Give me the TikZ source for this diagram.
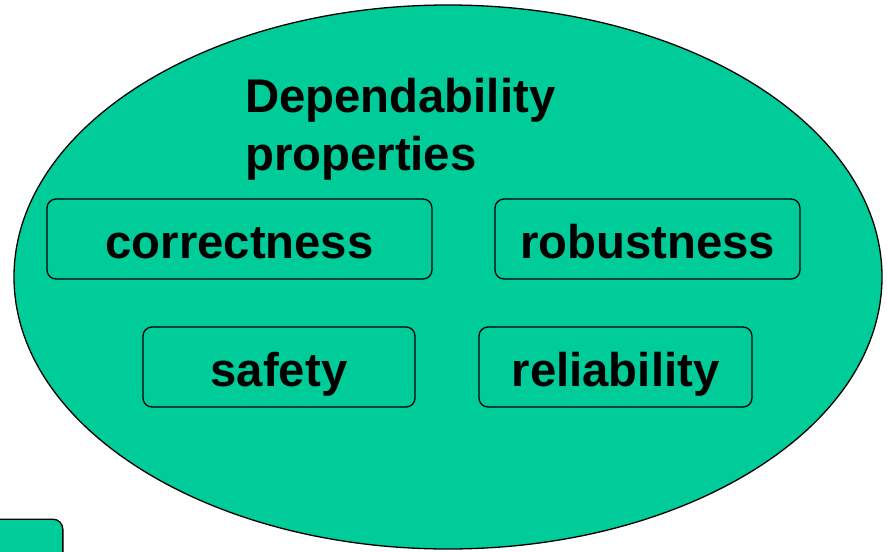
\documentclass[tikz,border=0pt]{standalone}
\usepackage{fontspec}
\setmainfont{Liberation Sans}
\usetikzlibrary{shapes.geometric}
\definecolor{dgreen}{HTML}{00CC99}
\tikzset{
  propbox/.style={draw=black, line width=1.3pt, rounded corners=9pt, fill=dgreen},
  proptext/.style={font=\fontsize{47.3}{56}\selectfont\bfseries, text=black, inner sep=0pt, anchor=base},
}
\begin{document}
\begin{tikzpicture}[x=1pt,y=-1pt]
\useasboundingbox (0,0) rectangle (887,552);
\clip (0,0) rectangle (887,552);
\node[draw=black, line width=1.3pt, fill=dgreen, ellipse, minimum width=868pt, minimum height=544pt, inner sep=0pt] (ell) at (448,277) {};
\node[propbox, minimum width=385pt, minimum height=80pt, inner sep=0pt] (corr) at (239.5,239) {};
\node[proptext] (corrt) at (corr.center |- 0,258) {correctness};
\node[propbox, minimum width=305pt, minimum height=80pt, inner sep=0pt] (rob) at (647.5,239) {};
\node[proptext] (robt) at (rob.center |- 0,258) {robustness};
\node[propbox, minimum width=272pt, minimum height=80pt, inner sep=0pt] (saf) at (279,367) {};
\node[proptext] (saft) at (saf.center |- 0,386) {safety};
\node[propbox, minimum width=273pt, minimum height=80pt, inner sep=0pt] (rel) at (615.5,367) {};
\node[proptext] (relt) at (rel.center |- 0,386) {reliability};
\node[proptext, anchor=base west] (t1) at (245,112) {Dependability};
\node[proptext, anchor=base west] (t2) at (245,170) {properties};
\node[propbox, rounded corners=10pt, minimum width=90pt, minimum height=70pt, inner sep=0pt, anchor=north east] (small) at (63.5,518.5) {};
\end{tikzpicture}
\end{document}
